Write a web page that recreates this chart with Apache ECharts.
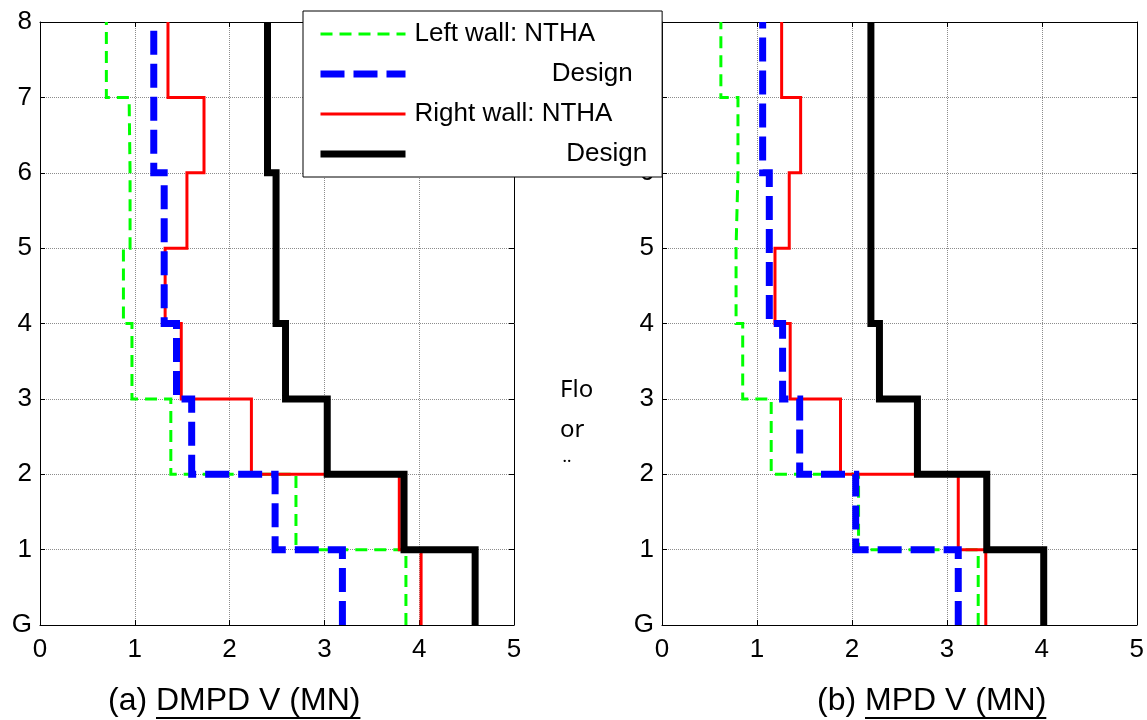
<!DOCTYPE html>
<html>
<head>
<meta charset="utf-8">
<title>DMPD / MPD storey shear</title>
<script src="https://cdn.jsdelivr.net/npm/echarts@6/dist/echarts.min.js"></script>
<style>
  html, body { margin: 0; padding: 0; background: #fff; }
  #chart { width: 1147px; height: 720px; }
</style>
</head>
<body>
<div id="chart"></div>
<script>
// tick labels
const floorLabels = ['G', '1', '2', '3', '4', '5', '6', '7', '8'];
const shearTicks = [0, 1, 2, 3, 4, 5];

// storey shear per storey, from G-1 up to 7-8 (MN)
// (a) DMPD
const dmpdLeftNtha = [3.86, 2.70, 1.38, 0.97, 0.88, 0.95, 0.94, 0.70];
const dmpdLeftDesign = [3.19, 2.48, 1.60, 1.44, 1.31, 1.31, 1.20, 1.20];
const dmpdRightNtha = [4.02, 3.79, 2.23, 1.49, 1.32, 1.55, 1.73, 1.35];
const dmpdRightDesign = [4.59, 3.84, 3.03, 2.59, 2.49, 2.49, 2.40, 2.40];
// (b) MPD
const mpdLeftNtha = [3.33, 2.07, 1.15, 0.85, 0.78, 0.80, 0.80, 0.62];
const mpdLeftDesign = [3.12, 2.04, 1.45, 1.27, 1.13, 1.13, 1.06, 1.06];
const mpdRightNtha = [3.41, 3.12, 1.88, 1.35, 1.19, 1.34, 1.46, 1.26];
const mpdRightDesign = [4.02, 3.42, 2.69, 2.29, 2.20, 2.20, 2.20, 2.20];

// legend names (padded like the original legend strings)
const nameLeftNtha = 'Left wall: NTHA';
const nameLeftDesign = ' '.repeat(19) + 'Design';
const nameRightNtha = 'Right wall: NTHA';
const nameRightDesign = ' '.repeat(21) + 'Design';

const FONT = '"Liberation Sans", Arial, sans-serif';

// stairs: each storey value spans floor i to floor i+1
function toStairs(vals) {
  const pts = [];
  vals.forEach((v, i) => {
    pts.push([v, i]);
    pts.push([v, i + 1]);
  });
  return pts;
}

const styles = {
  leftNtha: { color: '#00ff00', width: 3, type: [12, 7], z: 2 },
  leftDesign: { color: '#0000ff', width: 7, type: [24, 9], z: 5 },
  rightNtha: { color: '#ff0000', width: 3, type: 'solid', z: 3 },
  rightDesign: { color: '#000000', width: 7, type: 'solid', z: 4 },
};

function mkSeries(name, vals, st, idx) {
  return {
    name,
    type: 'line',
    xAxisIndex: idx * 2,
    yAxisIndex: idx * 2,
    data: toStairs(vals),
    symbol: 'none',
    silent: true,
    animation: false,
    z: st.z,
    itemStyle: { color: st.color },
    lineStyle: {
      color: st.color,
      width: st.width,
      type: st.type,
      join: 'miter',
      cap: 'butt',
    },
  };
}

function legendItem(name, st) {
  return {
    name,
    lineStyle: { color: st.color, width: st.width, type: st.type },
  };
}

function xAxes(gridIndex) {
  return [
    {
      gridIndex,
      type: 'value',
      min: 0,
      max: 5,
      interval: 1,
      axisLine: { show: true, onZero: false, lineStyle: { color: '#000', width: 1 } },
      axisTick: { show: true, inside: true, length: 5, lineStyle: { color: '#000' } },
      axisLabel: {
        margin: 12,
        color: '#000',
        fontSize: 26,
        fontFamily: FONT,
        formatter: (v) => (shearTicks.indexOf(v) >= 0 ? String(v) : ''),
      },
      splitLine: { show: true, lineStyle: { color: '#8c8c8c', type: 'dotted', width: 1 } },
    },
    {
      gridIndex,
      type: 'value',
      position: 'top',
      min: 0,
      max: 5,
      interval: 1,
      axisLine: { show: true, onZero: false, lineStyle: { color: '#000', width: 1 } },
      axisTick: { show: true, inside: true, length: 5, lineStyle: { color: '#000' } },
      axisLabel: { show: false },
      splitLine: { show: false },
    },
  ];
}

function yAxes(gridIndex) {
  return [
    {
      gridIndex,
      type: 'value',
      min: 0,
      max: 8,
      interval: 1,
      axisLine: { show: true, onZero: false, lineStyle: { color: '#000', width: 1 } },
      axisTick: { show: true, inside: true, length: 5, lineStyle: { color: '#000' } },
      axisLabel: {
        margin: 8,
        color: '#000',
        fontSize: 26,
        fontFamily: FONT,
        formatter: (v) => floorLabels[v] || '',
      },
      splitLine: { show: true, lineStyle: { color: '#8c8c8c', type: 'dotted', width: 1 } },
    },
    {
      gridIndex,
      type: 'value',
      position: 'right',
      min: 0,
      max: 8,
      interval: 1,
      axisLine: { show: true, onZero: false, lineStyle: { color: '#000', width: 1 } },
      axisTick: { show: true, inside: true, length: 5, lineStyle: { color: '#000' } },
      axisLabel: { show: false },
      splitLine: { show: false },
    },
  ];
}

// measure text so the underline sits under the right part of the caption
const measureCtx = document.createElement('canvas').getContext('2d');
function textWidth(str, size) {
  measureCtx.font = size + 'px ' + FONT;
  return measureCtx.measureText(str).width;
}

function caption(prefix, body, left, y) {
  const size = 32;
  const full = prefix + body;
  const x1 = left + textWidth(prefix, size);
  const x2 = left + textWidth(full, size);
  return [
    {
      type: 'text',
      left,
      top: y - 17,
      style: {
        text: full, fontSize: size, fontFamily: FONT, fill: '#000',
      },
    },
    {
      type: 'line',
      shape: { x1, y1: y + 16, x2, y2: y + 16 },
      style: { stroke: '#000', lineWidth: 2 },
    },
  ];
}

const chart = echarts.init(document.getElementById('chart'), null, { renderer: 'canvas' });

chart.setOption({
  backgroundColor: '#fff',
  animation: false,
  grid: [
    { left: 40, top: 22, width: 474, height: 603 },
    { left: 662, top: 22, width: 475, height: 603 },
  ],
  xAxis: [...xAxes(0), ...xAxes(1)],
  yAxis: [...yAxes(0), ...yAxes(1)],
  legend: {
    orient: 'vertical',
    left: 303,
    top: 11,
    z: 10,
    padding: [10, 15, 10, 14],
    itemWidth: 85,
    itemHeight: 14,
    itemGap: 14,
    backgroundColor: '#fff',
    borderColor: '#000',
    borderWidth: 1,
    borderRadius: 0,
    selectedMode: false,
    // hide the marker dot, keep only the line sample
    itemStyle: { opacity: 0 },
    textStyle: {
      fontSize: 26, fontFamily: FONT, color: '#000', padding: [0, 0, 0, 4],
    },
    data: [
      legendItem(nameLeftNtha, styles.leftNtha),
      legendItem(nameLeftDesign, styles.leftDesign),
      legendItem(nameRightNtha, styles.rightNtha),
      legendItem(nameRightDesign, styles.rightDesign),
    ],
  },
  series: [
    mkSeries(nameLeftNtha, dmpdLeftNtha, styles.leftNtha, 0),
    mkSeries(nameLeftDesign, dmpdLeftDesign, styles.leftDesign, 0),
    mkSeries(nameRightNtha, dmpdRightNtha, styles.rightNtha, 0),
    mkSeries(nameRightDesign, dmpdRightDesign, styles.rightDesign, 0),
    mkSeries(nameLeftNtha, mpdLeftNtha, styles.leftNtha, 1),
    mkSeries(nameLeftDesign, mpdLeftDesign, styles.leftDesign, 1),
    mkSeries(nameRightNtha, mpdRightNtha, styles.rightNtha, 1),
    mkSeries(nameRightDesign, mpdRightDesign, styles.rightDesign, 1),
  ],
  graphic: [
    ...caption('(a) ', 'DMPD V (MN)', 108, 702),
    ...caption('(b) ', 'MPD V (MN)', 817, 702),
    // y-axis label of the original, wrapped and clipped
    {
      type: 'text',
      left: 560,
      top: 370,
      style: {
        text: 'Flo\nor\n¨', fontSize: 24, lineHeight: 40, fontFamily: '"Noto Sans", sans-serif', fill: '#000',
      },
    },
  ],
});
</script>
</body>
</html>
